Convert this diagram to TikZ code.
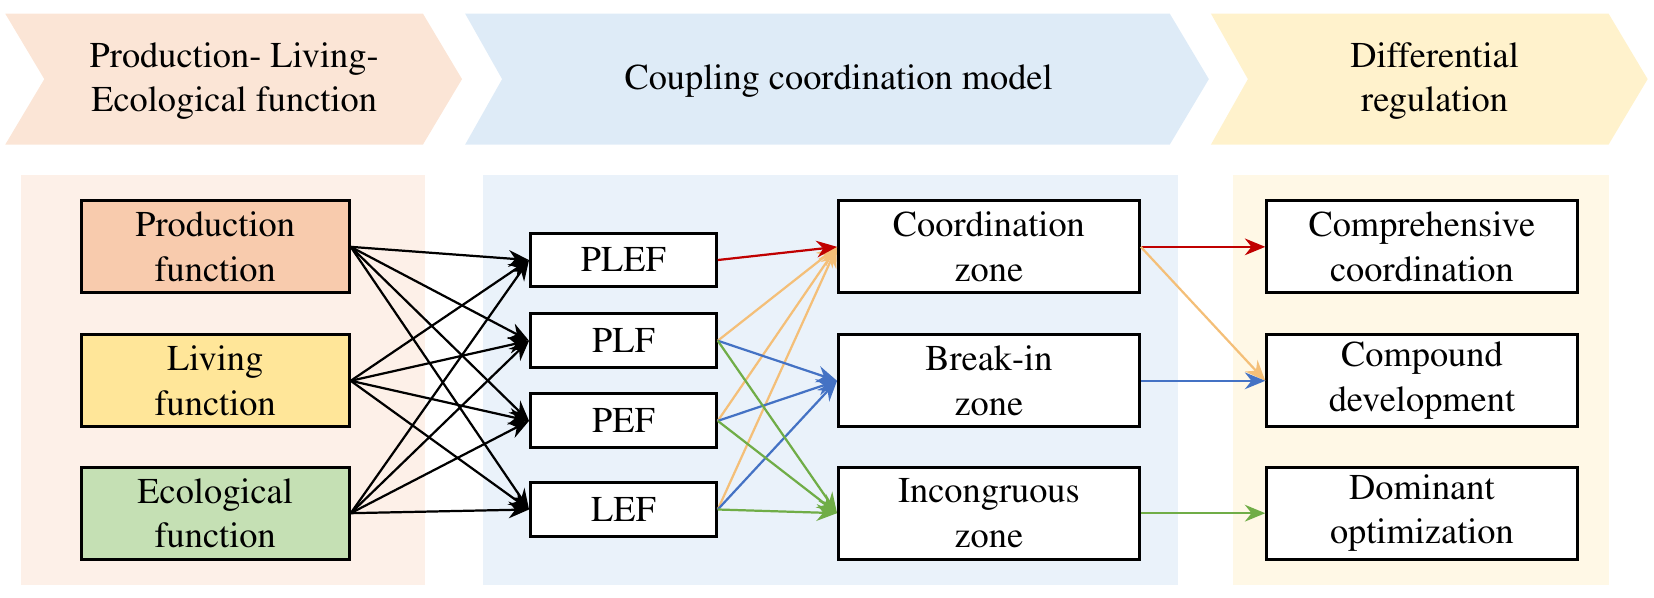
\documentclass[tikz,border=0pt]{standalone}
\usepackage[T1]{fontenc}
\usepackage{mathptmx}
\usepackage{tikz}
\usetikzlibrary{arrows.meta}

\definecolor{peachhead}{HTML}{FBE5D6}
\definecolor{peachback}{HTML}{FDF0E8}
\definecolor{bluehead}{HTML}{DEEBF7}
\definecolor{blueback}{HTML}{EAF2FA}
\definecolor{yellowhead}{HTML}{FFF2CC}
\definecolor{yellowback}{HTML}{FFF8E6}
\definecolor{prodfill}{HTML}{F8CBAD}
\definecolor{livfill}{HTML}{FFE699}
\definecolor{ecofill}{HTML}{C5E0B4}
\definecolor{linkred}{HTML}{C00000}
\definecolor{linkorange}{HTML}{F4BF78}
\definecolor{linkblue}{HTML}{4472C4}
\definecolor{linkgreen}{HTML}{70AD47}

\tikzset{
  box/.style={draw, line width=0.8pt, fill=white, align=center, inner sep=0pt,
    minimum height=0.87cm},
  small/.style={box, minimum width=1.76cm, minimum height=0.51cm},
  link/.style={-{Stealth[length=5.5pt,width=4.5pt]}, line width=0.6pt}
}

\begin{document}
\begin{tikzpicture}[x=0.01cm, y=-0.01cm, font=\fontsize{9.8}{12}\selectfont]
\useasboundingbox (0,0) rectangle (1568,566);
% headings
\fill[peachhead]  (5,13) -- (401,13) -- (438,75) -- (401,137) -- (5,137) -- (42,75) -- cycle;
\fill[bluehead]   (441,13) -- (1109,13) -- (1146,75) -- (1109,137) -- (441,137) -- (476,75) -- cycle;
\fill[yellowhead] (1148,13) -- (1525,13) -- (1562,75) -- (1525,137) -- (1148,137) -- (1183,75) -- cycle;
\node[align=center] (headone)   at (222,77)  {Production- Living-\\Ecological function};
\node[align=center] (headtwo)   at (795,77)  {Coupling coordination model};
\node[align=center] (headthree) at (1360,77) {Differential\\regulation};
% panels
\fill[peachback]  (20,166) rectangle (403,555);
\fill[blueback]   (458,166) rectangle (1117,555);
\fill[yellowback] (1169,166) rectangle (1525,555);

\node [box, minimum width=2.54cm, fill=prodfill] (prod)   at (204,234)   {Production\\function};
\node [box, minimum width=2.54cm, fill=livfill]  (living) at (204,361)   {Living\\function};
\node [box, minimum width=2.54cm, fill=ecofill]  (eco)    at (204,486.5) {Ecological\\function};

\node [small] (plef) at (591,246.5) {PLEF};
\node [small] (plf)  at (591,323)   {PLF};
\node [small] (pef)  at (591,399)   {PEF};
\node [small] (lef)  at (591,483)   {LEF};

\node [box, minimum width=2.85cm] (coord)   at (937.5,234)   {Coordination\\zone};
\node [box, minimum width=2.85cm] (breakin) at (937.5,361)   {Break-in\\zone};
\node [box, minimum width=2.85cm] (incong)  at (937.5,486.5) {Incongruous\\zone};

\node [box, minimum width=2.94cm] (compre)   at (1348,234)   {Comprehensive\\coordination};
\node [box, minimum width=2.94cm] (compound) at (1348,361)   {Compound\\development};
\node [box, minimum width=2.94cm] (dominant) at (1348,486.5) {Dominant\\optimization};

\draw [link] (prod.east) -- (plef.west);
\draw [link] (prod.east) -- (plf.west);
\draw [link] (prod.east) -- (pef.west);
\draw [link] (prod.east) -- (lef.west);
\draw [link] (living.east) -- (plef.west);
\draw [link] (living.east) -- (plf.west);
\draw [link] (living.east) -- (pef.west);
\draw [link] (living.east) -- (lef.west);
\draw [link] (eco.east) -- (plef.west);
\draw [link] (eco.east) -- (plf.west);
\draw [link] (eco.east) -- (pef.west);
\draw [link] (eco.east) -- (lef.west);

\draw [link, linkorange] (plf.east) -- (coord.west);
\draw [link, linkorange] (pef.east) -- (coord.west);
\draw [link, linkorange] (lef.east) -- (coord.west);
\draw [link, linkblue]   (plf.east) -- (breakin.west);
\draw [link, linkblue]   (pef.east) -- (breakin.west);
\draw [link, linkblue]   (lef.east) -- (breakin.west);
\draw [link, linkgreen]  (plf.east) -- (incong.west);
\draw [link, linkgreen]  (pef.east) -- (incong.west);
\draw [link, linkgreen]  (lef.east) -- (incong.west);
\draw [link, linkred]    (plef.east) -- (coord.west);

\draw [link, linkred]    (coord.east) -- (compre.west);
\draw [link, linkorange] (coord.east) -- (compound.west);
\draw [link, linkblue]   (breakin.east) -- (compound.west);
\draw [link, linkgreen]  (incong.east) -- (dominant.west);
\end{tikzpicture}
\end{document}
